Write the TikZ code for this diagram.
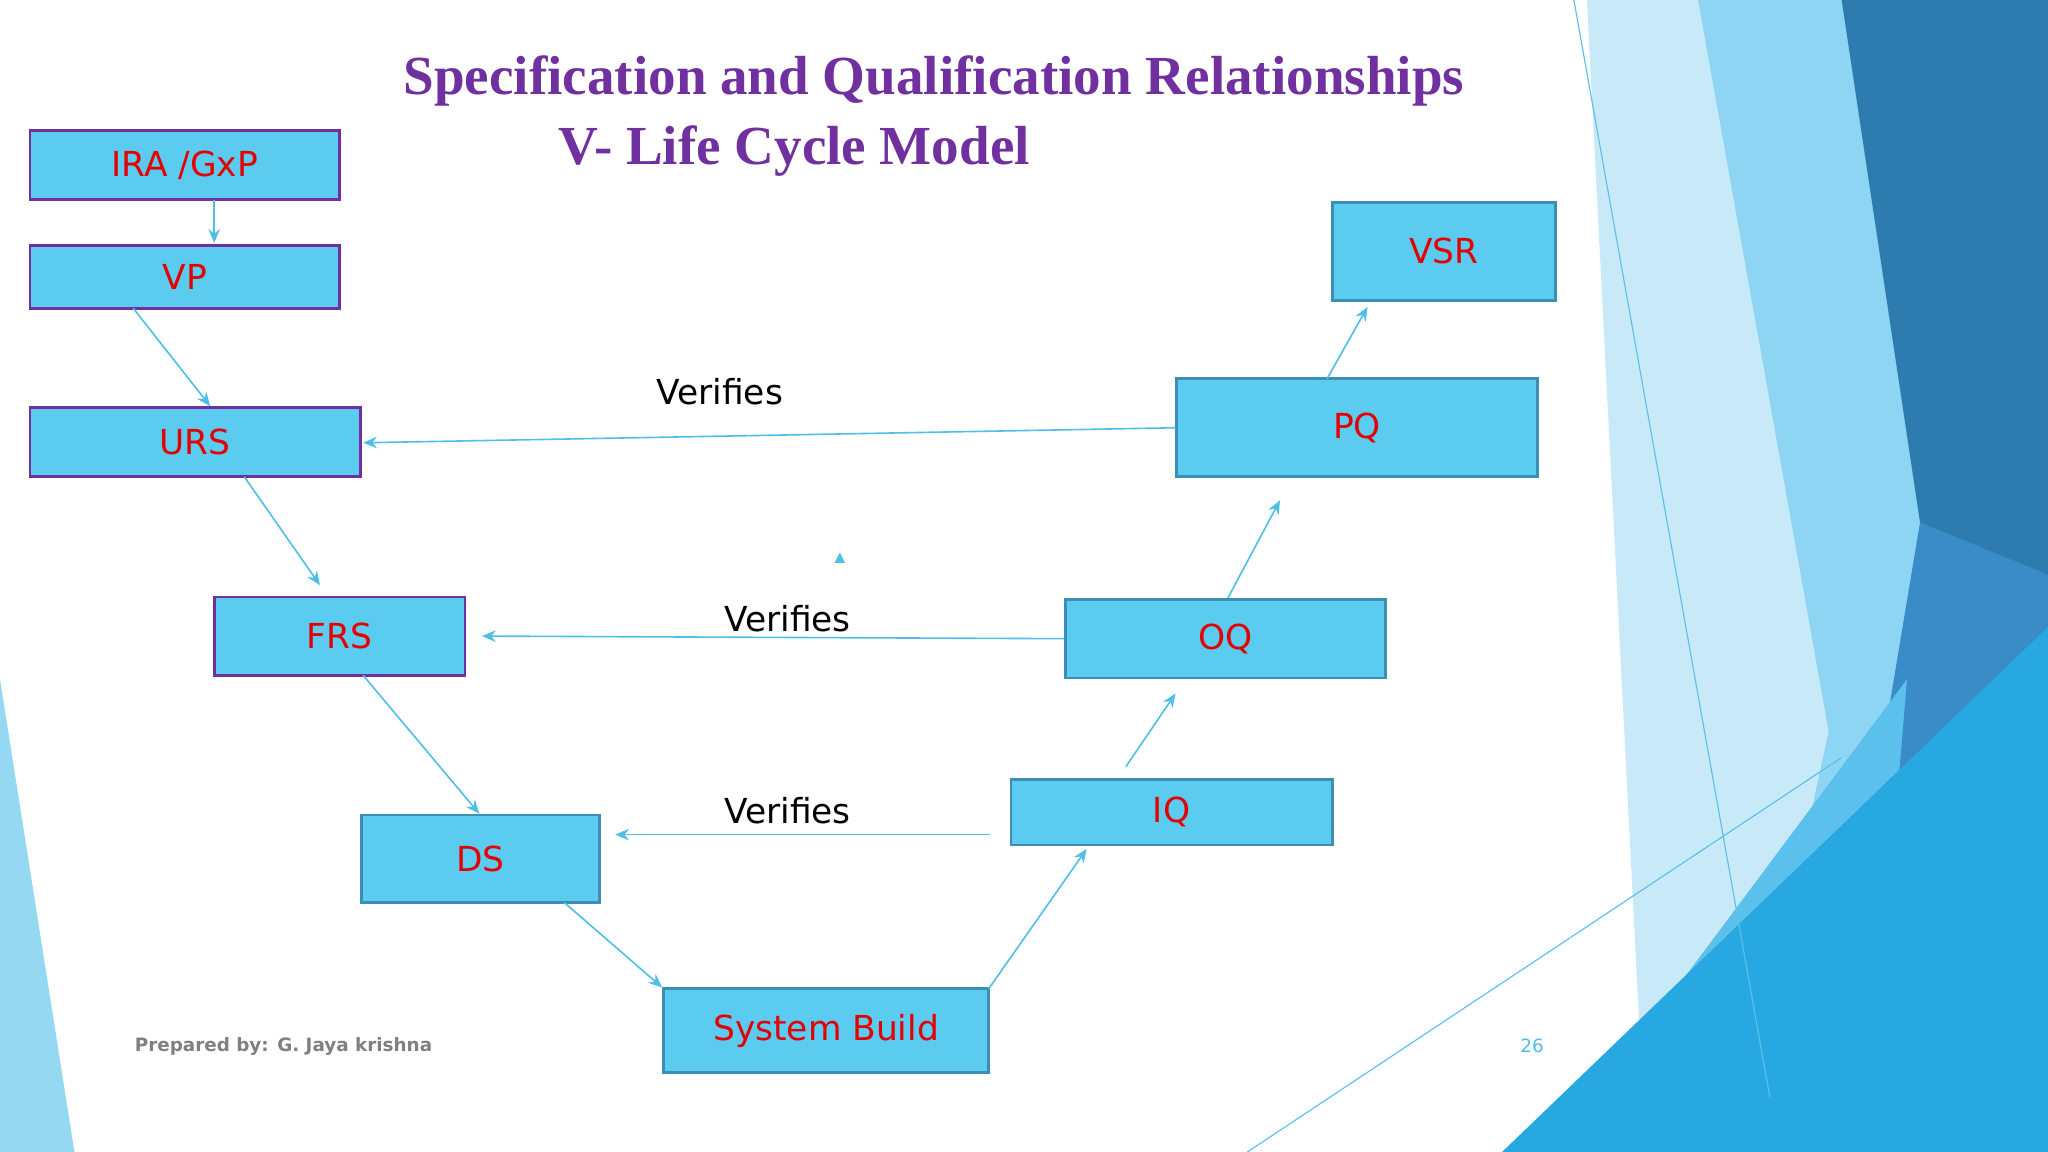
\documentclass[tikz,border=0pt]{standalone}
\usepackage{fontspec}
\setmainfont{Liberation Serif}
\newfontfamily\boxfont{DejaVu Sans}
\usetikzlibrary{arrows.meta}
\definecolor{boxfill}{HTML}{5BCBEF}
\definecolor{tealb}{HTML}{3C8FB2}
\definecolor{purp}{HTML}{7030A0}
\definecolor{arr}{HTML}{4FBFE8}
\definecolor{ttl}{HTML}{7030A0}
\definecolor{bgA}{HTML}{8DD5F2}
\definecolor{bgB}{HTML}{C8EAF8}
\definecolor{bgC}{HTML}{2E7BB0}
\definecolor{bgD}{HTML}{3A8CC8}
\definecolor{bgE}{HTML}{5BC0EB}
\definecolor{bgF}{HTML}{27A8E0}
\begin{document}
\begin{tikzpicture}[x=0.02cm,y=-0.02cm,
 bx/.style={draw=tealb,line width=1.2pt,fill=boxfill,font=\boxfont\fontsize{15}{18}\selectfont,text=red!90!black,inner sep=0},
 pb/.style={bx,draw=purp},
 ar/.style={draw=arr,line width=0.7pt,-{Stealth[length=6pt,width=5pt]}},
 lab/.style={font=\boxfont\fontsize{15}{18}\selectfont}]
\useasboundingbox (0,0) rectangle (1568,882);
\fill[white] (0,0) rectangle (1568,882);
% background decorations
\fill[arr!60] (0,520) -- (57,882) -- (0,882) -- cycle;
\fill[bgA] (1230,0) -- (1568,0) -- (1568,882) -- (1360,882) -- cycle;
\fill[bgB] (1215,0) -- (1300,0) -- (1400,560) -- (1330,882) -- (1260,882) -- cycle;
\fill[bgC] (1410,0) -- (1568,0) -- (1568,560) -- (1470,400) -- cycle;
\fill[bgD] (1470,400) -- (1568,440) -- (1568,600) -- (1430,882) -- (1420,700) -- cycle;
\fill[bgE] (1190,882) -- (1460,520) -- (1430,882) -- cycle;
\fill[bgF] (1150,882) -- (1568,480) -- (1568,882) -- cycle;
\draw[bgE,line width=0.5pt] (1205,0) -- (1355,840);
\draw[bgE,line width=0.5pt] (955,882) -- (1410,580);
% title
\node[font=\bfseries\fontsize{24}{28}\selectfont,text=ttl] at (715,62) {Specification and Qualification Relationships};
\node[font=\bfseries\fontsize{24}{28}\selectfont,text=ttl] at (608,116) {V- Life Cycle Model};
% boxes
\node[pb,minimum width=4.74cm,minimum height=1.06cm] (ira) at (141.5,126.5) {IRA /GxP};
\node[pb,minimum width=4.74cm,minimum height=0.96cm] (vp) at (141.5,212) {VP};
\node[pb,minimum width=5.06cm,minimum height=1.06cm] (urs) at (149.5,338.5) {URS};
\node[pb,minimum width=3.84cm,minimum height=1.2cm] (frs) at (260,487) {FRS};
\node[bx,minimum width=3.64cm,minimum height=1.34cm] (ds) at (368,657.5) {DS};
\node[bx,minimum width=4.98cm,minimum height=1.28cm] (sb) at (632.5,789) {System Build};
\node[bx,minimum width=4.92cm,minimum height=1.0cm] (iq) at (897,622) {IQ};
\node[bx,minimum width=4.9cm,minimum height=1.2cm] (oq) at (938.5,489) {OQ};
\node[bx,minimum width=5.52cm,minimum height=1.5cm] (pq) at (1039,327.5) {PQ};
\node[bx,minimum width=3.42cm,minimum height=1.5cm] (vsr) at (1105.5,192.5) {VSR};
% arrows
\draw[ar] (164,153) -- (164,186);
\draw[ar] (102,236) -- (161,311);
\draw[ar] (187,365) -- (245,448);
\draw[ar] (278,517) -- (367,623);
\draw[ar] (432,691) -- (507,756);
\draw[ar] (757,757) -- (832,650);
\draw[ar] (862,587) -- (900,531);
\draw[ar] (940,458) -- (980,383);
\draw[ar] (1016,290) -- (1047,235);
\draw[ar] (pq.west) -- (278,339);
\draw[ar] (oq.west) -- (369,487);
\draw[ar] (758,639) -- (471,639);
\node[lab] at (551,300) {Verifies};
\node[lab] at (603,474) {Verifies};
\node[lab] at (603,621) {Verifies};
\fill[arr] (639,431) -- (647,431) -- (643,423) -- cycle;
% footer
\node[font=\boxfont\bfseries\fontsize{8}{10}\selectfont,text=gray,anchor=west] at (97,801) {Prepared by: G. Jaya krishna};
\node[font=\boxfont\fontsize{8}{10}\selectfont,text=arr] at (1173,801) {26};
\end{tikzpicture}
\end{document}
